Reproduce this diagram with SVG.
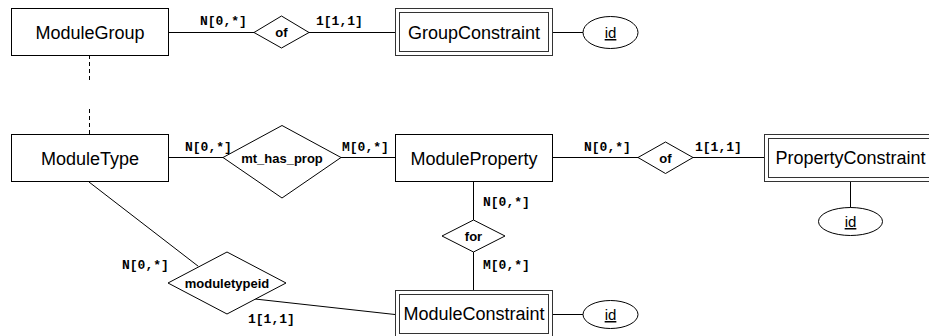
<svg xmlns="http://www.w3.org/2000/svg" width="929" height="336" viewBox="0 0 929 336">
  <style>
    .ent { fill: #fff; stroke: #000; stroke-width: 1; }
    .weak { fill: #fff; stroke: #333; stroke-width: 1; }
    .rel { fill: #fff; stroke: #000; stroke-width: 1; }
    .attr { fill: #fff; stroke: #000; stroke-width: 1; }
    .conn { stroke: #000; stroke-width: 1; fill: none; }
    .dash { stroke: #000; stroke-width: 1; stroke-dasharray: 4 3; fill: none; }
    .etext { font-family: "Liberation Sans", Arial, sans-serif; font-size: 18px; fill: #000; text-anchor: middle; }
    .rtext { font-family: "Liberation Sans", Arial, sans-serif; font-size: 13px; font-weight: bold; fill: #000; text-anchor: middle; }
    .atext { font-family: "Liberation Sans", Arial, sans-serif; font-size: 15px; fill: #000; text-anchor: middle; text-decoration: underline; }
    .card { font-family: "Liberation Mono", "Courier New", monospace; font-size: 13px; font-weight: bold; fill: #000; }
  </style>
  <rect width="929" height="336" fill="#fff"/>

  <!-- connectors -->
  <g id="connectors">
    <line class="conn" x1="168" y1="32.5" x2="254" y2="32.5"/>
    <line class="conn" x1="309" y1="32.5" x2="395" y2="32.5"/>
    <line class="conn" x1="552" y1="32.5" x2="583" y2="32.5"/>
    <line class="dash" x1="89.5" y1="55" x2="89.5" y2="80"/>
    <line class="dash" x1="89.5" y1="109" x2="89.5" y2="134"/>
    <line class="conn" x1="168" y1="157.5" x2="223" y2="157.5"/>
    <line class="conn" x1="341" y1="157.5" x2="395" y2="157.5"/>
    <line class="conn" x1="552" y1="157.5" x2="638" y2="157.5"/>
    <line class="conn" x1="693" y1="157.5" x2="764" y2="157.5"/>
    <line class="conn" x1="850.5" y1="181" x2="850.5" y2="208"/>
    <line class="conn" x1="473.5" y1="182" x2="473.5" y2="220"/>
    <line class="conn" x1="473.5" y1="252" x2="473.5" y2="290"/>
    <line class="conn" x1="89" y1="182" x2="198.3" y2="266.3"/>
    <line class="conn" x1="255" y1="299" x2="395" y2="314.5"/>
    <line class="conn" x1="552" y1="314.5" x2="583" y2="314.5"/>
    <text class="card" x="200" y="24.5">N[0,*]</text>
    <text class="card" x="316" y="24.5">1[1,1]</text>
    <text class="card" x="185" y="151">N[0,*]</text>
    <text class="card" x="342" y="151">M[0,*]</text>
    <text class="card" x="584" y="151">N[0,*]</text>
    <text class="card" x="695" y="151">1[1,1]</text>
    <text class="card" x="483" y="206">N[0,*]</text>
    <text class="card" x="483" y="268.5">M[0,*]</text>
    <text class="card" x="122" y="269">N[0,*]</text>
    <text class="card" x="248" y="323">1[1,1]</text>
  </g>

  <!-- entities -->
  <g id="ModuleGroup">
    <rect class="ent" x="11.5" y="8.5" width="157" height="47"/>
    <text class="etext" x="90" y="38.5">ModuleGroup</text>
  </g>
  <g id="GroupConstraint">
    <rect class="weak" x="395.5" y="8.5" width="157" height="47"/>
    <rect class="weak" x="399.5" y="12.5" width="149" height="39"/>
    <text class="etext" x="474" y="39">GroupConstraint</text>
  </g>
  <g id="ModuleType">
    <rect class="ent" x="11.5" y="134.5" width="157" height="47"/>
    <text class="etext" x="90" y="164.5">ModuleType</text>
  </g>
  <g id="ModuleProperty">
    <rect class="ent" x="395.5" y="134.5" width="157" height="47"/>
    <text class="etext" x="474" y="164.5">ModuleProperty</text>
  </g>
  <g id="PropertyConstraint">
    <rect class="weak" x="764.5" y="134.5" width="172" height="47"/>
    <rect class="weak" x="768.5" y="138.5" width="164" height="39"/>
    <text class="etext" x="850.5" y="164">PropertyConstraint</text>
  </g>
  <g id="ModuleConstraint">
    <rect class="weak" x="395.5" y="290.5" width="157" height="47"/>
    <rect class="weak" x="399.5" y="294.5" width="149" height="39"/>
    <text class="etext" x="474" y="320">ModuleConstraint</text>
  </g>

  <!-- relationships -->
  <g id="rel_of_group">
    <polygon class="rel" points="254,32.5 281.5,16 309,32.5 281.5,48"/>
    <text class="rtext" x="281.5" y="37">of</text>
  </g>
  <g id="rel_mt_has_prop">
    <polygon class="rel" points="223,157.5 282,125.5 341,157.5 282,198"/>
    <text class="rtext" x="282" y="162.5">mt_has_prop</text>
  </g>
  <g id="rel_of_property">
    <polygon class="rel" points="638,157.5 665.5,142 693,157.5 665.5,173.5"/>
    <text class="rtext" x="665.5" y="162.5">of</text>
  </g>
  <g id="rel_for">
    <polygon class="rel" points="442,236 473.5,220 505,236 473.5,252"/>
    <text class="rtext" x="473.5" y="240.5">for</text>
  </g>
  <g id="rel_moduletypeid">
    <polygon class="rel" points="168,283 227,252 286,283 227,314"/>
    <text class="rtext" x="227" y="288">moduletypeid</text>
  </g>

  <!-- attributes -->
  <g id="attr_group_id">
    <ellipse class="attr" cx="610.5" cy="32.5" rx="27.5" ry="16"/>
    <text class="atext" x="610.5" y="38">id</text>
  </g>
  <g id="attr_property_id">
    <ellipse class="attr" cx="850.5" cy="221.5" rx="32" ry="14"/>
    <text class="atext" x="850.5" y="227">id</text>
  </g>
  <g id="attr_module_id">
    <ellipse class="attr" cx="610.5" cy="314.5" rx="27.5" ry="14"/>
    <text class="atext" x="610.5" y="320">id</text>
  </g>
</svg>
